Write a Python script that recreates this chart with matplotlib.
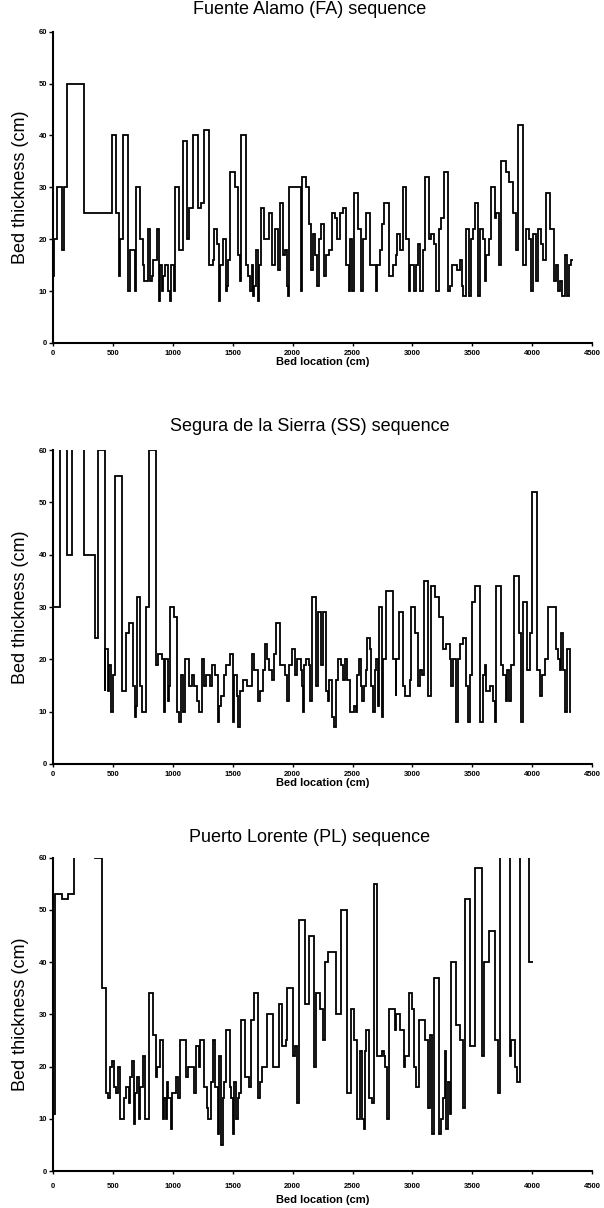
import matplotlib
matplotlib.use("Agg")
import matplotlib.pyplot as plt

# ---------------- data ----------------
# Fuente Alamo (FA): bed start locations (cm) and thickness (cm)
fa_loc = [0, 5, 33, 69, 89, 116, 260, 490, 524, 551,
          560, 580, 623, 637, 684, 692, 726, 748, 756, 787,
          809, 823, 837, 868, 886, 892, 909, 920, 934, 961,
          975, 986, 1008, 1017, 1048, 1086, 1119, 1136, 1166, 1205,
          1230, 1258, 1300, 1335, 1341, 1368, 1383, 1391, 1421, 1440,
          1450, 1460, 1479, 1518, 1540, 1558, 1570, 1610, 1626, 1640,
          1660, 1670, 1680, 1690, 1712, 1718, 1737, 1759, 1798, 1825,
          1856, 1878, 1890, 1920, 1939, 1950, 1960, 1967, 2070, 2076,
          2107, 2137, 2154, 2171, 2187, 2204, 2221, 2235, 2263, 2282,
          2304, 2327, 2352, 2374, 2393, 2421, 2443, 2466, 2477, 2499,
          2510, 2546, 2574, 2588, 2616, 2644, 2695, 2705, 2727, 2749,
          2763, 2805, 2838, 2861, 2872, 2894, 2922, 2950, 2970, 2983,
          3011, 3028, 3047, 3067, 3089, 3103, 3139, 3158, 3178, 3200,
          3220, 3242, 3261, 3295, 3311, 3328, 3375, 3395, 3412, 3423,
          3445, 3473, 3492, 3506, 3520, 3548, 3567, 3590, 3603, 3617,
          3640, 3654, 3687, 3701, 3723, 3743, 3784, 3807, 3840, 3868,
          3885, 3923, 3946, 3973, 3993, 4007, 4035, 4049, 4076, 4090,
          4118, 4152, 4182, 4202, 4218, 4235, 4252, 4271, 4291, 4307,
          4327, 4341]
fa_thk = [13, 20, 30, 18, 30, 50, 25, 40, 25, 13,
          20, 40, 10, 18, 10, 30, 20, 15, 12, 22,
          12, 13, 16, 22, 8, 15, 10, 13, 15, 10,
          8, 15, 10, 30, 18, 39, 20, 26, 40, 26,
          27, 41, 15, 16, 22, 19, 8, 15, 20, 10,
          11, 16, 33, 30, 17, 12, 40, 15, 13, 10,
          15, 9, 11, 18, 8, 15, 26, 20, 25, 15,
          22, 14, 27, 17, 18, 11, 9, 30, 10, 32,
          30, 23, 14, 21, 17, 11, 20, 23, 13, 17,
          18, 25, 24, 20, 25, 26, 15, 10, 20, 10,
          29, 22, 10, 20, 25, 15, 10, 15, 18, 23,
          27, 13, 15, 17, 21, 18, 30, 20, 10, 15,
          10, 15, 19, 10, 18, 32, 20, 21, 19, 10,
          22, 24, 33, 10, 11, 15, 14, 16, 11, 9,
          22, 9, 20, 22, 27, 9, 22, 20, 12, 17,
          20, 30, 24, 25, 15, 35, 33, 31, 25, 18,
          42, 15, 22, 20, 10, 21, 12, 22, 19, 16,
          29, 22, 12, 15, 10, 12, 9, 17, 9, 15,
          16]

# Segura de la Sierra (SS)  (values > 60 are off-scale beds)
ss_loc = [0, 56, 117, 158, 256, 347, 372, 428, 436, 456,
          467, 486, 500, 519, 575, 611, 631, 667, 681, 692,
          700, 728, 744, 775, 803, 858, 875, 908, 922, 931,
          956, 964, 978, 1006, 1033, 1053, 1067, 1083, 1103, 1131,
          1158, 1172, 1200, 1214, 1242, 1261, 1278, 1306, 1325, 1353,
          1372, 1386, 1400, 1422, 1444, 1478, 1497, 1511, 1533, 1547,
          1561, 1583, 1617, 1658, 1678, 1714, 1728, 1750, 1769, 1789,
          1806, 1825, 1844, 1858, 1894, 1935, 1955, 1965, 1990, 2018,
          2037, 2065, 2076, 2082, 2096, 2110, 2137, 2148, 2160, 2193,
          2212, 2235, 2251, 2282, 2296, 2304, 2332, 2346, 2360, 2379,
          2407, 2421, 2435, 2454, 2482, 2510, 2532, 2541, 2552, 2571,
          2582, 2594, 2610, 2624, 2644, 2658, 2672, 2685, 2699, 2713,
          2722, 2749, 2755, 2777, 2838, 2861, 2866, 2888, 2922, 2936,
          2978, 2991, 3019, 3047, 3061, 3078, 3094, 3131, 3158, 3192,
          3220, 3256, 3284, 3311, 3325, 3339, 3367, 3381, 3395, 3423,
          3445, 3464, 3478, 3501, 3526, 3562, 3590, 3603, 3617, 3645,
          3673, 3687, 3701, 3743, 3756, 3779, 3790, 3807, 3826, 3846,
          3887, 3909, 3923, 3957, 3979, 3998, 4043, 4063, 4082, 4104,
          4132, 4196, 4215, 4229, 4243, 4257, 4277, 4293, 4313, 4327]
ss_thk = [30, 75, 40, 75, 40, 24, 60, 14, 22, 14,
          19, 10, 17, 55, 14, 25, 27, 15, 9, 11,
          32, 15, 10, 30, 60, 19, 21, 20, 10, 20,
          12, 15, 30, 28, 10, 8, 17, 10, 20, 15,
          17, 15, 12, 10, 20, 15, 17, 15, 19, 17,
          8, 11, 13, 17, 19, 21, 8, 17, 13, 7,
          14, 16, 15, 21, 18, 12, 14, 18, 23, 20,
          18, 16, 21, 27, 19, 17, 12, 19, 22, 17,
          20, 18, 15, 10, 19, 20, 19, 12, 32, 15,
          29, 19, 29, 14, 12, 16, 9, 7, 16, 20,
          19, 16, 20, 16, 10, 11, 10, 17, 20, 15,
          12, 15, 18, 24, 22, 15, 10, 18, 20, 11,
          30, 9, 20, 33, 20, 13, 20, 29, 15, 13,
          16, 30, 25, 15, 18, 17, 35, 13, 34, 32,
          28, 22, 23, 20, 15, 20, 8, 20, 23, 24,
          15, 8, 17, 31, 34, 8, 17, 19, 14, 15,
          12, 8, 34, 19, 17, 12, 18, 12, 19, 36,
          25, 8, 31, 18, 25, 52, 18, 13, 17, 20,
          30, 22, 20, 18, 25, 18, 10, 22, 10]

# Puerto Lorente (PL)
pl_loc = [0, 14, 69, 119, 174, 350, 409, 442, 461, 472,
          492, 511, 525, 539, 561, 594, 608, 630, 641, 655,
          675, 685, 699, 713, 727, 746, 765, 796, 829, 856,
          870, 892, 917, 925, 939, 948, 961, 981, 994, 1022,
          1041, 1058, 1108, 1124, 1177, 1191, 1215, 1229, 1262, 1285,
          1293, 1318, 1331, 1354, 1373, 1384, 1401, 1414, 1428, 1442,
          1472, 1486, 1500, 1511, 1525, 1539, 1555, 1566, 1602, 1638,
          1649, 1677, 1713, 1727, 1746, 1782, 1837, 1887, 1914, 1942,
          1953, 1999, 2018, 2038, 2054, 2101, 2137, 2175, 2197, 2225,
          2252, 2271, 2293, 2362, 2404, 2450, 2486, 2514, 2541, 2560,
          2582, 2596, 2605, 2615, 2637, 2659, 2679, 2706, 2748, 2761,
          2775, 2789, 2803, 2852, 2863, 2893, 2926, 2940, 2968, 2995,
          3017, 3028, 3056, 3105, 3127, 3147, 3166, 3182, 3221, 3237,
          3257, 3270, 3284, 3298, 3317, 3325, 3367, 3394, 3422, 3441,
          3480, 3520, 3583, 3601, 3640, 3689, 3711, 3730, 3815, 3826,
          3854, 3870, 3898, 3972, 4008]
pl_thk = [11, 53, 52, 53, 75, 60, 35, 15, 14, 20,
          21, 16, 15, 20, 10, 14, 16, 13, 18, 21,
          9, 15, 18, 10, 16, 22, 10, 34, 26, 18,
          20, 25, 10, 14, 10, 17, 14, 8, 15, 18,
          14, 25, 18, 20, 15, 24, 20, 25, 16, 12,
          10, 17, 25, 16, 7, 22, 5, 14, 17, 27,
          16, 14, 7, 17, 10, 14, 15, 29, 18, 16,
          29, 34, 14, 17, 20, 30, 20, 32, 24, 25,
          35, 22, 24, 13, 48, 32, 45, 20, 34, 31,
          25, 40, 42, 30, 50, 15, 31, 25, 10, 23,
          10, 8, 23, 27, 14, 13, 55, 22, 23, 22,
          20, 10, 31, 27, 30, 27, 20, 22, 34, 31,
          20, 16, 29, 25, 12, 26, 7, 37, 7, 10,
          14, 23, 8, 17, 11, 40, 28, 25, 12, 52,
          24, 58, 22, 40, 46, 25, 15, 75, 22, 25,
          20, 17, 75, 40]

titles = ["Fuente Alamo (FA) sequence",
          "Segura de la Sierra (SS) sequence",
          "Puerto Lorente (PL) sequence"]
x_ticks = [0, 500, 1000, 1500, 2000, 2500, 3000, 3500, 4000, 4500]
y_ticks = [0, 10, 20, 30, 40, 50, 60]

# ---------------- figure ----------------
FONT = ["Liberation Sans", "DejaVu Sans"]
fig = plt.figure(figsize=(6.04, 12.08), dpi=100)

H = 1208.0
W = 604.0
left = 53.3 / W
width = (592.0 - 53.3) / W
# (top_px, bottom_px, title_y_px, xtick_pad, xlabel_off)
layout = [(31.7, 343.0, 10.0, 2.5, -0.062),
          (450.0, 764.0, 427.0, 2.5, -0.062),
          (857.7, 1171.0, 838.0, 6.0, -0.093)]
series = [(fa_loc, fa_thk), (ss_loc, ss_thk), (pl_loc, pl_thk)]

for (top, bot, ty, xpad, xlo), (loc, thk), title in zip(layout, series, titles):
    ax = fig.add_axes([left, 1 - bot / H, width, (bot - top) / H])
    ax.stairs(thk, loc, baseline=None, color="black", linewidth=1.3)
    ax.set_xlim(0, 4500)
    ax.set_ylim(0, 60)
    ax.set_xticks(x_ticks)
    ax.set_yticks(y_ticks)
    for s in ("top", "right"):
        ax.spines[s].set_visible(False)
    for s in ("left", "bottom"):
        ax.spines[s].set_linewidth(1.5)
        ax.spines[s].set_color("black")
    ax.tick_params(axis="x", direction="out", length=2.5, width=1.0, pad=xpad)
    ax.tick_params(axis="y", direction="out", length=3.0, width=1.0, pad=1.5)
    for lab in ax.get_xticklabels() + ax.get_yticklabels():
        lab.set_fontfamily(FONT)
        lab.set_fontweight("bold")
        lab.set_fontsize(5.5)
    ax.set_ylabel("Bed thickness (cm)", fontsize=13, family=FONT, va="center")
    ax.yaxis.set_label_coords(-0.06, 0.5)
    ax.set_xlabel("Bed location (cm)", fontsize=8, family=FONT,
                  fontweight="bold", va="center")
    ax.xaxis.set_label_coords(0.5, xlo)
    fig.text(310.0 / W, 1 - ty / H, title, fontsize=13, family=FONT,
             ha="center", va="center")

fig.savefig("out.png", dpi=100)
